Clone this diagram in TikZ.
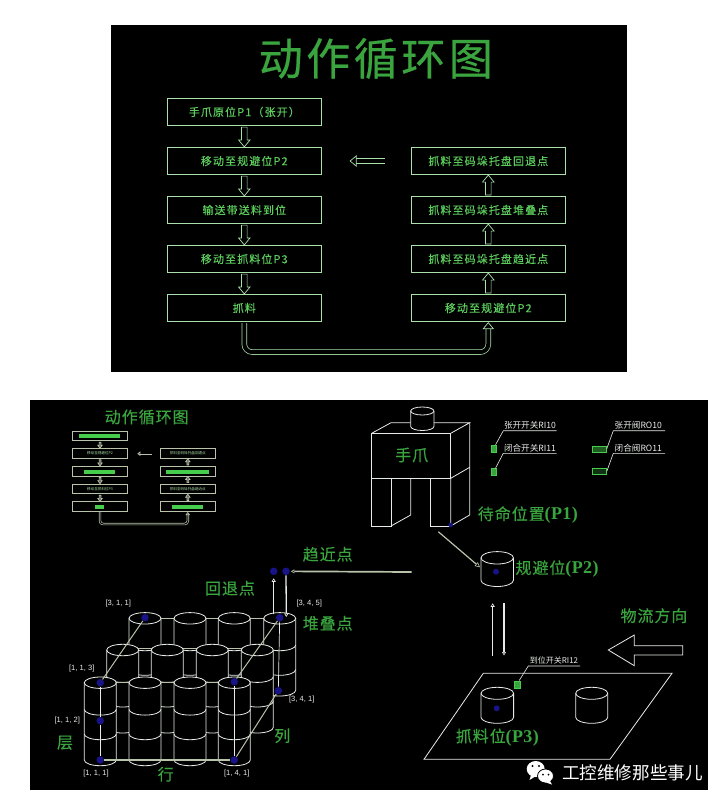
\documentclass[tikz,border=0pt]{standalone}
\usepackage{fontspec}
\setmainfont{Liberation Sans}
\newfontfamily\cjk{Noto Sans CJK SC}
\newfontfamily\cjksp[LetterSpace=10,FakeBold=0.15]{Noto Sans CJK SC}
\newfontfamily\cjkwd[LetterSpace=6,FakeBold=0.25]{Noto Sans CJK SC}
\newfontfamily\cjktt[LetterSpace=8,FakeBold=0.5]{Noto Sans CJK SC}
\newfontfamily\serbf[LetterSpace=2]{Liberation Serif Bold}
\newcommand\pp[1]{{\serbf\fontsize{18}{18}\selectfont(#1)}}
\usetikzlibrary{arrows.meta,calc}
\definecolor{gtitle}{RGB}{58,165,62}
\definecolor{gtext}{RGB}{92,205,92}
\definecolor{gbox}{RGB}{170,225,170}
\definecolor{gfill}{RGB}{70,205,75}
\definecolor{wline}{RGB}{232,236,232}
\definecolor{gline}{RGB}{185,195,170}
\definecolor{bdot}{RGB}{24,20,135}
\tikzset{x=1pt,y=-1pt,
 bigbox/.style={draw=gbox,line width=.8pt,minimum width=154.7pt,minimum height=27.4pt,inner sep=0pt,text=gtext,font=\cjksp\fontsize{11}{11}\selectfont},
 minibox/.style={draw=gline,line width=1pt,minimum width=55.3pt,minimum height=9.6pt,inner sep=0pt,text=gbox,font=\cjk\fontsize{3.6}{5}\selectfont},
 blockarrow/.style={double=black,double distance=4pt,line width=.7pt,draw=gbox,-{Triangle[open,fill=black,length=7pt,width=11.5pt,line width=.7pt]}},
 miniarrow/.style={double=black,double distance=1pt,line width=.7pt,draw=gline,-{Triangle[open,fill=black,length=3pt,width=4.5pt,line width=.7pt]}},
 blockline/.style={draw=gbox,line width=.7pt,line join=miter},
 miniline/.style={draw=gline,line width=.7pt,fill=gline!50!black},
 gbar/.style={fill=gfill,draw=none,inner sep=0pt,minimum height=4pt},
 head/.style={text=gtitle,inner sep=0pt,font=\cjkwd\fontsize{16}{16}\selectfont},
 tag/.style={text=wline,inner sep=0pt,font=\fontsize{7.6}{8}\selectfont},
 swtag/.style={text=wline,inner sep=0pt,font=\cjk\fontsize{8.6}{9}\selectfont},
 wire/.style={draw=wline,line width=.8pt},
 heavy/.style={draw=gline,line width=1pt},
 thin arrow/.style={draw=wline,line width=1.3pt,-{Triangle[open,length=3.5pt,width=4pt,line width=.6pt]}},
 blue/.style={circle,fill=bdot,inner sep=0pt,minimum size=#1},
 blue/.default=7.5pt,
 sensor/.style={fill=gfill!80!black,draw=gfill,line width=.4pt,inner sep=0pt}
}
% style, start, end, direction (1 down, -1 up), half shaft, half head, head length
\newcommand\blockv[7]{%
 \draw[#1] ($(#2)+(-#5,#4)$) -- ($(#3)+(-#5,{-#7*#4})$) -- ($(#3)+(-#6,{-#7*#4})$) -- (#3) -- ($(#3)+(#6,{-#7*#4})$) -- ($(#3)+(#5,{-#7*#4})$) -- ($(#2)+(#5,#4)$) -- cycle;
}
% cx, ytop, rx, ry, height, layer offsets
\newcommand\cylshape[6]{%
 \fill[black] (#1-#3,#2) -- (#1-#3,#2+#5) arc[start angle=180,end angle=360,x radius=#3pt,y radius=#4pt] -- (#1+#3,#2) arc[start angle=0,end angle=180,x radius=#3pt,y radius=#4pt] -- cycle;
 \draw[wire] (#1,#2) ellipse[x radius=#3pt,y radius=#4pt];
 \draw[wire] (#1-#3,#2) -- (#1-#3,#2+#5) arc[start angle=180,end angle=360,x radius=#3pt,y radius=#4pt] -- (#1+#3,#2);
 \foreach \o in {#6}{\draw[wire] (#1-#3,#2+\o) arc[start angle=180,end angle=360,x radius=#3pt,y radius=#4pt];}
}
\begin{document}
\begin{tikzpicture}
\useasboundingbox (0,0) rectangle (728,806);
\fill[white] (0,0) rectangle (728,806);
\fill[black] (111,25) rectangle (627,372);
\fill[black] (30,400) rectangle (708,790);

% ---- top panel
\node[text=gtitle,inner sep=0pt,font=\cjktt\fontsize{44}{44}\selectfont] (title) at (375.8,58.5) {动作循环图};
\node[bigbox] (L1) at (244.3,112) {手爪原位P1（张开）};
\node[bigbox] (L2) at (244.3,161) {移动至规避位P2};
\node[bigbox] (L3) at (244.3,210) {输送带送料到位};
\node[bigbox] (L4) at (244.3,259) {移动至抓料位P3};
\node[bigbox] (L5) at (244.3,308) {抓料};
\node[bigbox] (R1) at (488.3,161) {抓料至码垛托盘回退点};
\node[bigbox] (R2) at (488.3,210) {抓料至码垛托盘堆叠点};
\node[bigbox] (R3) at (488.3,259) {抓料至码垛托盘趋近点};
\node[bigbox] (R4) at (488.3,308) {移动至规避位P2};
\blockv{blockline}{L1.south}{L2.north}{1}{2.8}{5.8}{7}
\blockv{blockline}{L2.south}{L3.north}{1}{2.8}{5.8}{7}
\blockv{blockline}{L3.south}{L4.north}{1}{2.8}{5.8}{7}
\blockv{blockline}{L4.south}{L5.north}{1}{2.8}{5.8}{7}
\blockv{blockline}{R4.north}{R3.south}{-1}{2.8}{5.8}{7}
\blockv{blockline}{R3.north}{R2.south}{-1}{2.8}{5.8}{7}
\blockv{blockline}{R2.north}{R1.south}{-1}{2.8}{5.8}{7}
\draw[blockarrow,shorten >=.5pt] (R1.west) ++(-26,0) coordinate (mf) (mf) -- ($(L2.east)+(27,0)$);
\draw[blockarrow,rounded corners=8pt,shorten <=1pt] (L5.south) -- ($(L5.south)+(0,30)$) -- ($(R4.south)+(0,30)$) -- (R4.south);

% ---- mini flowchart
\node[head] (t2) at (146.7,417) {动作循环图};
\node[minibox] (mL1) at (100,436) {};
\node[minibox] (mL2) at (100,453.5) {移动至规避位P2};
\node[minibox] (mL3) at (100,471.2) {};
\node[minibox] (mL4) at (100,488.9) {移动至抓料位P3};
\node[minibox] (mL5) at (100,506.7) {};
\node[minibox] (mR1) at (187.8,453.5) {抓料至码垛托盘回退点};
\node[minibox] (mR2) at (187.8,471.2) {};
\node[minibox] (mR3) at (187.8,488.9) {抓料至码垛托盘趋近点};
\node[minibox] (mR4) at (187.8,506.7) {};
\node[gbar,minimum width=40.7pt] (b1) at (99.7,436.2) {};
\node[gbar,minimum width=30.7pt] (b2) at (99.7,471.5) {};
\node[gbar,minimum width=8.7pt] (b3) at (99.7,507) {};
\node[gbar,minimum width=43.6pt] (b4) at (187.5,471.5) {};
\node[gbar,minimum width=30.7pt] (b5) at (187.6,507) {};
\blockv{miniline}{mL1.south}{mL2.north}{1}{.9}{2.2}{3}
\blockv{miniline}{mL2.south}{mL3.north}{1}{.9}{2.2}{3}
\blockv{miniline}{mL3.south}{mL4.north}{1}{.9}{2.2}{3}
\blockv{miniline}{mL4.south}{mL5.north}{1}{.9}{2.2}{3}
\blockv{miniline}{mR4.north}{mR3.south}{-1}{.9}{2.2}{3}
\blockv{miniline}{mR3.north}{mR2.south}{-1}{.9}{2.2}{3}
\blockv{miniline}{mR2.north}{mR1.south}{-1}{.9}{2.2}{3}
\coordinate (mm) at (151.7,453.7);
\coordinate (mn) at (137.3,453.7);
\draw[miniarrow] (mm) -- (mn);
\draw[miniarrow,rounded corners=3pt] (mL5.south) -- ($(mL5.south)+(0,12)$) -- ($(mR4.south)+(0,12)$) -- (mR4.south);

% ---- gripper
\fill[black] (371.7,433.3) -- (391,422.7) -- (469.7,422.7) -- (469.7,515) -- (450.7,526) -- (371.7,526) -- cycle;
\draw[wire] (371.7,433.3) -- (391,422.7) -- (469.7,422.7) -- (450.7,433.3);
\draw[wire] (371.7,433.3) rectangle (450.7,478.3);
\draw[wire] (469.7,422.7) -- (469.7,515) -- (450.7,526) -- (450.7,478.3) -- (469.7,467.3);
\draw[wire] (371.7,478.3) -- (371.7,526) -- (391,526) -- (391,478.3);
\draw[wire] (391,526) -- (410.7,515) -- (410.7,478.3);
\draw[wire] (430.3,478.3) -- (430.3,526) -- (450.7,526);
\cylshape{422.3}{411}{11.6}{4}{15.5}{}
\node[head] (claw) at (411.7,455) {手爪};
\node[blue=4.5pt] (p1dot) at (450.7,525) {};
\node[head] (p1) at (527.8,515) {待命位置\pp{P1}};

% switches
\node[swtag] (s1) at (530,425.7) {张开开关RI10};
\node[swtag] (s2) at (530,448.3) {闭合开关RI11};
\node[swtag] (v1) at (638.3,425.7) {张开阀RO10};
\node[swtag] (v2) at (638.3,448.3) {闭合阀RO11};
\node[sensor,minimum width=4.8pt,minimum height=7pt] (ss1) at (493.5,448.5) {};
\node[sensor,minimum width=4.8pt,minimum height=7pt] (ss2) at (493.5,472) {};
\node[sensor,fill=gfill!45!black,minimum width=14.6pt,minimum height=6pt] (vv1) at (599.3,448.7) {};
\node[sensor,fill=gfill!25!black,minimum width=14.6pt,minimum height=6pt] (vv2) at (599.3,471.3) {};
\draw[wire,line width=.6pt] (ss1) -- (503.3,430.7) -- (556.7,430.7);
\draw[wire,line width=.6pt] (ss2) -- (503.3,453.3) -- (556.7,453.3);
\draw[wire,line width=.6pt] (vv1.east) -- (613.3,430.7) -- (665,430.7);
\draw[wire,line width=.6pt] (vv2.east) -- (613.3,453.3) -- (665,453.3);

% ---- P2 cylinder
\cylshape{497.2}{557.8}{16.2}{6.2}{22.5}{}
\node[blue=6pt] (p2dot) at (496,571.7) {};
\node[head] (p2) at (557,569) {规避位\pp{P2}};
\coordinate (g0) at (438.3,531.7);
\coordinate (g1) at (480,567.3);
\draw[draw=gline,line width=1.2pt,-{Triangle[open,length=5pt,width=5pt,line width=.6pt]}] (g0) -- (g1);

% ---- transfer arrows
\node[blue] (a1) at (273.7,571.3) {};
\node[blue] (a2) at (286,571.3) {};
\coordinate (u0) at (411.7,572);
\draw[thin arrow,draw=gline,line width=1.7pt,shorten >=1pt] (u0) -- (a2);
\node[head] (near) at (327.7,554.3) {趋近点};
\node[head] (ret) at (230,588.3) {回退点};

% ---- stack: back row
\draw[heavy] (145,618.3) -- (279.7,618.3);
\cylshape{279.7}{618.3}{16}{5.7}{72}{26.7,51.3}
\cylshape{234.3}{618.3}{16}{5.7}{72}{26.7,51.3}
\cylshape{190}{618.3}{16}{5.7}{72}{26.7,51.3}
\cylshape{145}{618.3}{16}{5.7}{72}{26.7,51.3}
\draw[heavy] (122.7,648.5) -- (257.3,648.5);
\cylshape{257.3}{650}{16}{5.7}{77.3}{26.7,51.3}
\cylshape{212.3}{650}{16}{5.7}{77.3}{26.7,51.3}
\cylshape{167.3}{650}{16}{5.7}{77.3}{26.7,51.3}
\cylshape{122.7}{650}{16}{5.7}{77.3}{26.7,51.3}
\draw[heavy] (100.3,682.7) -- (234.3,682.7);
\cylshape{234.3}{682.7}{16}{5.7}{77.3}{26.7,51.3}
\cylshape{190}{682.7}{16}{5.7}{77.3}{26.7,51.3}
\cylshape{145}{682.7}{16}{5.7}{77.3}{26.7,51.3}
\cylshape{100.3}{682.7}{16}{5.7}{77.3}{26.7,51.3}

\node[blue] (n311) at (145,617.7) {};
\node[blue] (n345) at (279.7,617.7) {};
\node[blue] (n113) at (100.3,682.7) {};
\node[blue] (n143) at (234.3,681.7) {};
\node[blue] (n341) at (278.3,690.7) {};
\node[blue] (n112) at (100.3,720.7) {};
\node[blue] (n111) at (100.3,760) {};
\node[blue] (n141) at (234.3,760) {};
\draw[heavy] (n113) -- (n311);
\draw[heavy] (n143) -- (n345);
\draw[heavy] (n141) -- (n341);
\draw[wire,line width=.7pt] (n113) -- (n112) -- (n111);
\draw[wire,line width=.7pt] (n143) -- (n141);
\draw[wire,line width=.7pt] (n345) -- (n341);
\draw[heavy,line width=1.3pt] (n111) -- (n141);
\draw[thin arrow,shorten >=3pt] (n345.north -| a1) -- (a1);
\draw[thin arrow] (a2) -- (286.3,617);

\node[tag] (l1) at (118.3,603.7) {[3, 1, 1]};
\node[tag] (l2) at (309.3,603.7) {[3, 4, 5]};
\node[tag] (l3) at (81.7,668.7) {[1, 1, 3]};
\node[tag] (l4) at (67.3,721) {[1, 1, 2]};
\node[tag] (l5) at (96,773.7) {[1, 1, 1]};
\node[tag] (l6) at (236.7,773.7) {[1, 4, 1]};
\node[tag] (l7) at (301.7,700) {[3, 4, 1]};
\node[head] (stk) at (327.7,623.3) {堆叠点};
\node[head] (ceng) at (65,742.7) {层};
\node[head] (lie) at (282.3,735.7) {列};
\node[head] (hang) at (165.7,774.3) {行};

% ---- conveyor plate and P3
\coordinate (up0) at (492.7,655.7); \coordinate (up1) at (492.7,603.3);
\coordinate (dn0) at (504,603.3); \coordinate (dn1) at (504,655.5);
\draw[thin arrow] (up0) -- (up1);
\draw[thin arrow] (dn0) -- (dn1);
\node[head] (flow) at (654,615.7) {物流方向};
\draw[wire] (608.3,650) -- (634.3,635) -- (634.3,645.7) -- (682.7,645.7) -- (682.7,655) -- (634.3,655) -- (634.3,665.7) -- cycle;
\draw[wire] (483.3,673.3) -- (672,673.3) -- (610,759.3) -- (424,759.3) -- cycle;
\cylshape{497.3}{693.3}{16.3}{6}{24}{}
\cylshape{591.7}{693.3}{16}{6}{24}{}
\node[blue=6pt] (p3dot) at (496.7,708.3) {};
\node[sensor,minimum width=6pt,minimum height=7.6pt] (ss3) at (516.7,684.5) {};
\node[swtag,font=\cjk\fontsize{8}{8}\selectfont] (s3) at (554,660.7) {到位开关RI12};
\draw[wire,line width=.6pt] (ss3) -- (528.3,666) -- (580,666);
\node[head] (p3) at (497.3,737.3) {抓料位\pp{P3}};

% ---- watermark
\fill[white] (535.7,769) ellipse[x radius=9pt,y radius=8pt];
\fill[white] (531,775) -- (529.5,780) -- (536,776) -- cycle;
\filldraw[fill=white,draw=black,line width=.8pt] (545.5,776) ellipse[x radius=8pt,y radius=7pt];
\fill[white] (550,781) -- (552,784.5) -- (546,782.5) -- cycle;
\fill[black] (532.5,766) circle[radius=1.2pt] (539,766) circle[radius=1.2pt] (543,774.5) circle[radius=1pt] (548.5,774.5) circle[radius=1pt];
\node[text=white,inner sep=0pt,font=\cjk\fontsize{17.6}{18}\selectfont] (wm) at (632.5,773.3) {工控维修那些事儿};
\end{tikzpicture}
\end{document}
